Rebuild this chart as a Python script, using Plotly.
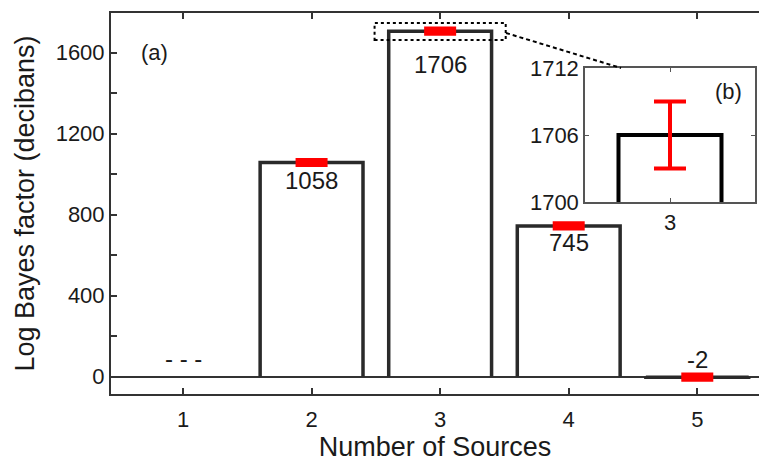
import plotly.graph_objects as go

# ---- data ----
sources = [1, 2, 3, 4, 5]
log_bayes = [None, 1058, 1706, 745, -2]
errors = [None, 3, 3, 3, 3]
value_labels = ["- - -", "1058", "1706", "745", "-2"]
label_shift = [18, -18, -33, -17, 18]   # px offsets of value labels
y_tickvals = [0, 200, 400, 600, 800, 1000, 1200, 1400, 1600]
y_ticktext = ["0", "", "400", "", "800", "", "1200", "", "1600"]
inset_source = 3
inset_ticks = [1700, 1706, 1712]

BAR_W = 0.8
FONT = "Liberation Sans, Arial, sans-serif"
TXT = "#1a1a1a"
AX = "#333333"

# open bar outlines built from data
bx, by = [], []
for s, v in zip(sources, log_bayes):
    if v is None:
        continue
    bx += [s - BAR_W / 2, s - BAR_W / 2, s + BAR_W / 2, s + BAR_W / 2, None]
    by += [0, v, v, 0, None]

fig = go.Figure()
fig.add_trace(go.Scatter(x=bx, y=by, mode="lines",
                         line=dict(color="#2a2a2a", width=3.5),
                         hoverinfo="skip", showlegend=False))
ex = [s for s, v in zip(sources, log_bayes) if v is not None]
ey = [v for v in log_bayes if v is not None]
ee = [e for e, v in zip(errors, log_bayes) if v is not None]
fig.add_trace(go.Scatter(x=ex, y=ey, mode="markers",
                         marker=dict(size=1, color="rgba(0,0,0,0)"),
                         error_y=dict(type="data", array=ee, color="#ff0000",
                                      thickness=8, width=16),
                         showlegend=False))

# inset (b)
i = sources.index(inset_source)
iv = log_bayes[i]
fig.add_trace(go.Scatter(x=[inset_source - BAR_W / 2, inset_source - BAR_W / 2,
                            inset_source + BAR_W / 2, inset_source + BAR_W / 2],
                         y=[0, iv, iv, 0], mode="lines",
                         line=dict(color="#000000", width=4),
                         xaxis="x2", yaxis="y2", showlegend=False, hoverinfo="skip"))
fig.add_trace(go.Scatter(x=[inset_source], y=[iv], mode="markers",
                         marker=dict(size=1, color="rgba(0,0,0,0)"),
                         error_y=dict(type="data", array=[errors[i]], color="#ff0000",
                                      thickness=4, width=16),
                         xaxis="x2", yaxis="y2", showlegend=False))

# value labels
annotations = []
for s, v, t, sh in zip(sources, log_bayes, value_labels, label_shift):
    annotations.append(dict(x=s, y=(v if v is not None else 0), xref="x", yref="y",
                            text=t, showarrow=False, yshift=sh,
                            xanchor="center", yanchor="middle",
                            font=dict(family=FONT, size=24, color=TXT)))
annotations.append(dict(x=0.0679, y=0.8976, xref="paper", yref="paper", text="(a)",
                        showarrow=False, xanchor="center", yanchor="middle",
                        font=dict(family=FONT, size=22, color=TXT)))
annotations.append(dict(x=0.9537, y=0.7927, xref="paper", yref="paper", text="(b)",
                        showarrow=False, xanchor="center", yanchor="middle",
                        font=dict(family=FONT, size=22, color=TXT)))

shapes = [
    dict(type="rect", xref="x", yref="y", x0=2.49, x1=3.51, y0=1663, y1=1747,
         line=dict(color="#000000", width=2, dash="3px,3px")),
    dict(type="line", xref="paper", yref="paper", x0=0.6096, y0=0.9475,
         x1=0.787, y1=0.8556, line=dict(color="#000000", width=2, dash="4px,3px")),
]

tickfont = dict(family=FONT, size=22, color=TXT)
fig.update_layout(
    width=759, height=462,
    margin=dict(l=111, r=0, t=13, b=68),
    paper_bgcolor="white", plot_bgcolor="white",
    showlegend=False,
    xaxis=dict(range=[0.44, 5.48], tickvals=sources, ticks="inside", ticklen=6,
               tickwidth=1.5, tickcolor=AX, showline=True, linecolor=AX, linewidth=2,
               mirror="ticks", showgrid=False, zeroline=False, tickfont=tickfont,
               ticklabelstandoff=5,
               title=dict(text="Number of Sources", standoff=5,
                          font=dict(family=FONT, size=27, color=TXT))),
    yaxis=dict(range=[-85, 1796], tickvals=y_tickvals, ticktext=y_ticktext,
               ticks="inside", ticklen=6, tickwidth=1.5, tickcolor=AX,
               showline=True, linecolor=AX, linewidth=2, mirror=False,
               showgrid=False, zeroline=True, zerolinecolor=AX, zerolinewidth=1.5,
               tickfont=tickfont,
               title=dict(text="Log Bayes factor (decibans)", standoff=13,
                          font=dict(family=FONT, size=27, color=TXT))),
    xaxis2=dict(domain=[0.7315, 0.9938], range=[2.34, 3.66], tickvals=[inset_source],
                anchor="y2", ticks="inside", ticklen=4, tickwidth=1, tickcolor="#555",
                showline=True, linecolor="#555", linewidth=1.5, mirror="ticks",
                showgrid=False, zeroline=False, tickfont=tickfont),
    yaxis2=dict(domain=[0.5039, 0.8556], range=[1700, 1712], tickvals=inset_ticks,
                anchor="x2", ticks="inside", ticklen=4, tickwidth=1, tickcolor="#555",
                showline=True, linecolor="#555", linewidth=1.5, mirror="ticks",
                showgrid=False, zeroline=False, tickfont=tickfont),
    annotations=annotations,
    shapes=shapes,
)

fig.write_html("out.html",
               config={"displayModeBar": False},
               post_script="document.body.style.margin='0';"
                           "document.documentElement.style.overflow='hidden';")
